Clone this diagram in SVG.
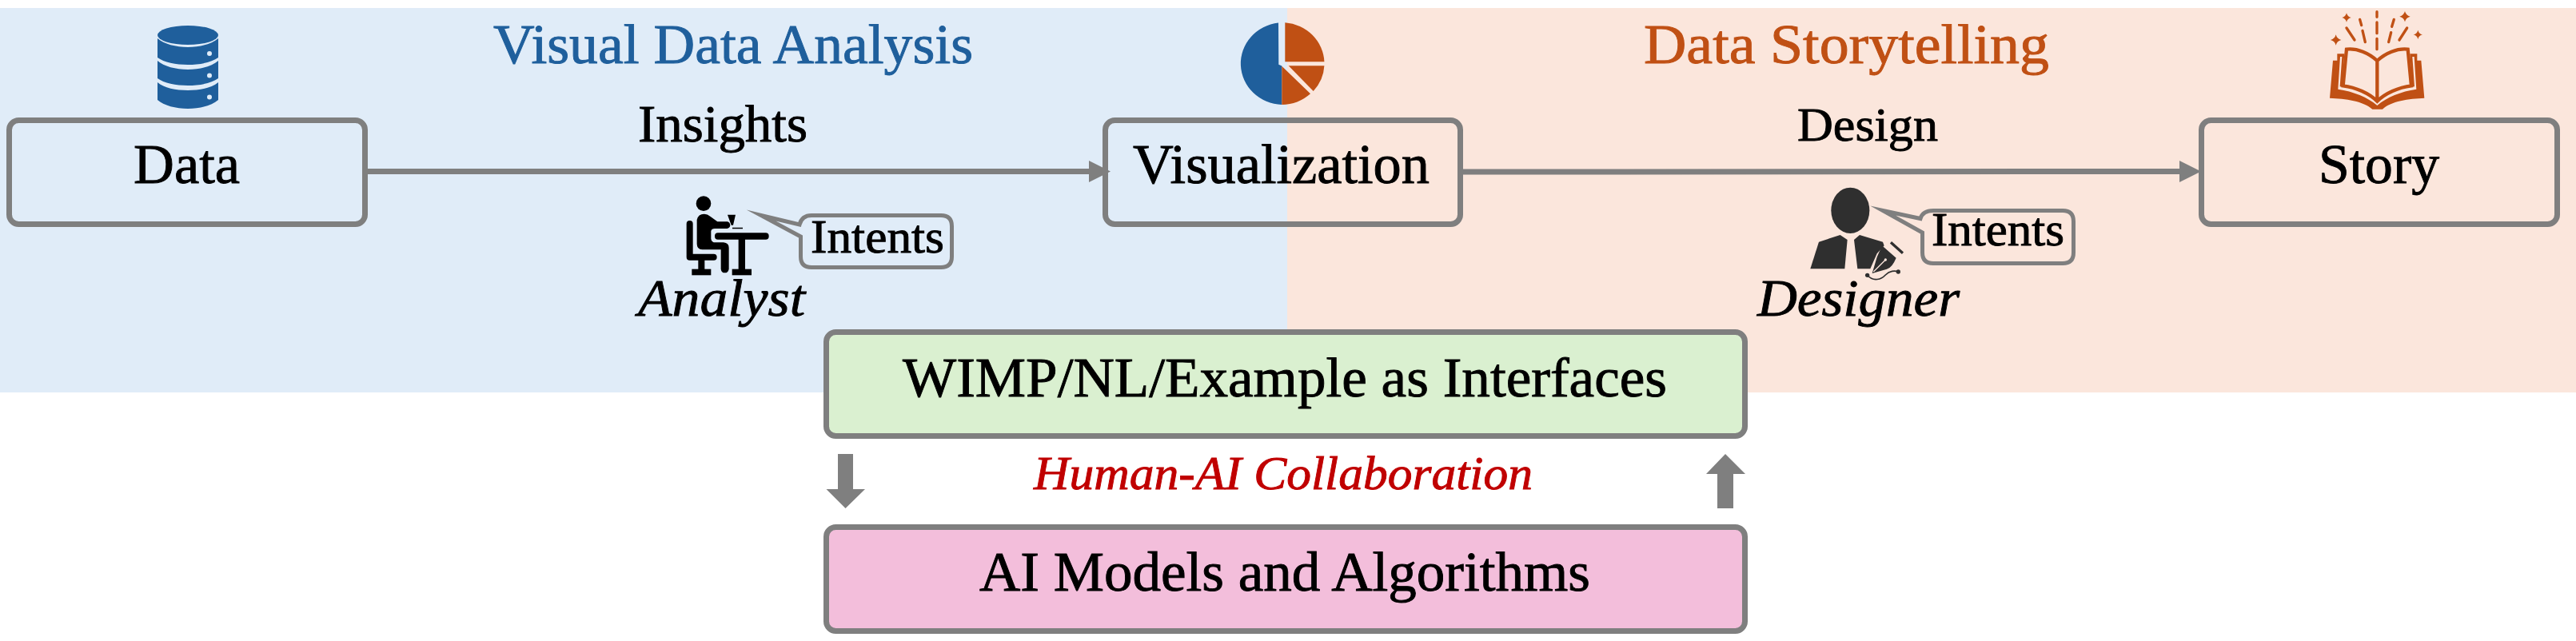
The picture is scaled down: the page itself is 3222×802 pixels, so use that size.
<svg xmlns="http://www.w3.org/2000/svg" width="3222" height="802" viewBox="0 0 3222 802">
<style>
text{font-family:"Liberation Serif","Times New Roman",serif;fill:#000;stroke:#000;stroke-width:.9}
.box{stroke:#7f7f7f;stroke-width:7;fill:none}
.bub{stroke:#7f7f7f;stroke-width:5;fill:none;stroke-miterlimit:12}
.conn{stroke:#7f7f7f;stroke-width:7;fill:none}
.blue{fill:#1f5f9c}
.org{fill:#c05014}
.dark{fill:#2f2f2f}
.ray{stroke:#c05014;stroke-width:10;stroke-linecap:round;fill:none}
.t70{font-size:69px}
.t66{font-size:66px}
.t60{font-size:60px}
.i{font-style:italic}
</style>
<defs>
<marker id="head" markerUnits="userSpaceOnUse" markerWidth="30" markerHeight="30" refX="3" refY="15" orient="auto"><polygon points="0,1.5 27,15 0,28.5" fill="#7f7f7f"/></marker>
<path id="sp" d="M0,-20 Q4,-4 20,0 Q4,4 0,20 Q-4,4 -20,0 Q-4,-4 0,-20Z" fill="#c05014"/>
</defs>
<rect x="0" y="10" width="1610" height="481" fill="#e0ecf8"/>
<rect x="1610" y="10" width="1612" height="481" fill="#fbe6dc"/>
<g id="connectors">
<line class="conn" x1="460" y1="214.5" x2="1365" y2="214.5" marker-end="url(#head)"/>
<line class="conn" x1="1830" y1="215" x2="2729" y2="214.5" marker-end="url(#head)"/>
<polygon id="arrow-down" points="1048,568 1067,568 1067,612 1082,612 1057.5,636 1033.5,612 1048,612" fill="#7f7f7f"/>
<polygon id="arrow-up" points="2148,636 2168,636 2168,593 2183,593 2158,568 2134,593 2148,593" fill="#7f7f7f"/>
</g>
<g id="title-analysis"><text class="t70" x="617" y="79" textLength="600" lengthAdjust="spacingAndGlyphs" style="fill:#1f5f9c;stroke:#1f5f9c">Visual Data Analysis</text></g>
<g id="title-storytelling"><text class="t70" x="2056" y="79" textLength="507" lengthAdjust="spacingAndGlyphs" style="fill:#c05014;stroke:#c05014">Data Storytelling</text></g>
<g id="label-insights"><text class="t66" x="798" y="177" textLength="212" lengthAdjust="spacingAndGlyphs">Insights</text></g>
<g id="label-design"><text class="t60" x="2248" y="176" textLength="176" lengthAdjust="spacingAndGlyphs">Design</text></g>
<g id="node-data">
<rect class="box" x="11.5" y="150.5" width="445" height="130" rx="12"/>
<text class="t70" x="167" y="229" textLength="133" lengthAdjust="spacingAndGlyphs">Data</text>
</g>
<g id="node-visualization">
<rect class="box" x="1382.5" y="150.5" width="444" height="130" rx="12"/>
<text class="t70" x="1417" y="229" textLength="371" lengthAdjust="spacingAndGlyphs">Visualization</text>
</g>
<g id="node-story">
<rect class="box" x="2753.5" y="150.5" width="445" height="130" rx="12"/>
<text class="t70" x="2900" y="229" textLength="151" lengthAdjust="spacingAndGlyphs">Story</text>
</g>
<g id="node-interfaces">
<rect class="box" x="1033.5" y="415.5" width="1149" height="130" rx="12" style="fill:#daf0d0"/>
<text class="t70" x="1129" y="496" textLength="956" lengthAdjust="spacingAndGlyphs">WIMP/NL/Example as Interfaces</text>
</g>
<g id="node-models">
<rect class="box" x="1033.5" y="659.5" width="1149" height="130" rx="12" style="fill:#f3bedb"/>
<text class="t70" x="1225" y="739" textLength="764" lengthAdjust="spacingAndGlyphs">AI Models and Algorithms</text>
</g>
<g id="label-collab"><text class="t60 i" x="1293" y="612" textLength="624" lengthAdjust="spacingAndGlyphs" style="fill:#c00000;stroke:#c00000">Human-AI Collaboration</text></g>
<g id="icon-database" class="blue">
<ellipse cx="235" cy="44" rx="38" ry="12"/>
<path d="M197,48 C205,55 220,59 235,59 C250,59 265,55 273,48 V72 C265,78 250,81 235,81 C220,81 205,78 197,72Z"/>
<path d="M197,76 C205,83 220,87 235,87 C250,87 265,83 273,76 V98 C265,104 250,107 235,107 C220,107 205,104 197,98Z"/>
<path d="M197,103 C205,110 220,113 235,113 C250,113 265,110 273,103 V125 C265,132 250,136 235,136 C220,136 205,132 197,125Z"/>
<circle cx="262" cy="67" r="3" fill="#e0ecf8"/><circle cx="262" cy="94.6" r="3" fill="#e0ecf8"/><circle cx="262" cy="121.5" r="3" fill="#e0ecf8"/>
</g>
<g id="icon-pie">
<path class="blue" d="M1599,28.4 A53.5,51.5 0 0 0 1603.3,131 V82.5 L1599.3,80.7Z"/>
<path class="org" d="M1607.3,28.2 A53.5,51.5 0 0 1 1656.4,77.3 H1607.3Z"/>
<path class="org" d="M1611.7,82.3 H1656.4 A53.5,51.5 0 0 1 1642.7,114Z"/>
<path class="org" d="M1603.3,82.7 L1639,117.3 A53.5,51.5 0 0 1 1603.3,131Z"/>
</g>
<g id="icon-book" transform="translate(2880,10) scale(.3333)">
<path class="org" d="M114,197 H130 V172 H157 L148,300 C190,305 250,330 280,358 C310,330 370,305 412,300 L403,172 H430 V197 H445 L457,338 C400,340 330,350 300,380 H262 C230,350 160,340 102,338Z"/>
<path d="M141,183 L133,305 C190,313 245,335 280,366 C315,335 370,313 427,305 L419,183 H412 L420,295 C365,300 310,322 280,350 C250,322 195,300 140,295 L148,183Z" fill="#fbe6dc"/>
<path d="M165,155 C205,150 250,170 280,198 C310,170 355,150 395,155 L408,292 C360,298 310,320 280,350 C250,320 200,298 152,292Z M280,198 V350" fill="none" stroke="#c05014" stroke-width="13"/>
<path class="ray" d="M279,14 V34 M279,54 V95 M279,115 V155 M165,75 L195,120 M225,85 L235,128 M215,43 L221,65 M392,75 L363,120 M332,92 L323,128 M343,43 L335,70"/>
<use href="#sp" x="125" y="120"/><use href="#sp" transform="translate(165,36) scale(.85)"/><use href="#sp" x="384" y="32"/><use href="#sp" transform="translate(433,100) scale(.85)"/>
</g>
<g id="analyst">
<g transform="translate(820,220) scale(.3333)">
<circle cx="180" cy="104" r="28"/>
<path d="M128,180 V305 H218" fill="none" stroke="#000" stroke-width="24" stroke-linecap="round" stroke-linejoin="round"/>
<rect x="160" y="310" width="24" height="45"/>
<rect x="136" y="350" width="72" height="23"/>
<path d="M155,165 Q160,143 182,143 Q195,143 205,152 L232,172 H270 Q280,175 280,187 Q278,197 268,198 H222 Q210,198 208,208 V236 Q210,250 225,250 H255 Q275,252 275,270 V350 Q272,364 260,364 Q247,364 245,350 V277 H175 Q155,277 155,255Z"/>
<rect x="222" y="214" width="203" height="25" rx="12"/>
<rect x="311" y="235" width="25" height="118"/>
<rect x="287" y="350" width="73" height="23"/>
<path d="M270,146 H300 L291,185 H284Z M288,194 H327 V199 H288Z"/>
</g>
<path class="bub" d="M1015,269.5 H1177 Q1190.5,269.5 1190.5,283 V321 Q1190.5,334.5 1177,334.5 H1015 Q1001.5,334.5 1001.5,321 V296 L952,269.5 L1000,281 Q1003,269.5 1015,269.5Z"/>
<text class="t60" x="1014" y="316" textLength="167" lengthAdjust="spacingAndGlyphs">Intents</text>
<text class="t66 i" x="798" y="395" textLength="209" lengthAdjust="spacingAndGlyphs">Analyst</text>
</g>
<g id="designer">
<g transform="translate(2180,220) scale(.3333)">
<ellipse class="dark" cx="403" cy="130" rx="72" ry="86"/>
<path class="dark" d="M253,349 L285,248 L365,222 L392,240 L382,349Z"/>
<path class="dark" d="M417,240 L438,222 L525,248 L530,262 L503,292 L478,349 H430Z"/>
<path class="dark" d="M522,262 L575,308 Q560,345 540,350 L485,366 L503,305Z"/>
<line x1="555" y1="250" x2="600" y2="290" stroke="#2f2f2f" stroke-width="10"/>
<line x1="490" y1="360" x2="535" y2="315" stroke="#fbe6dc" stroke-width="4"/>
<circle cx="535" cy="315" r="5" fill="#fbe6dc"/>
<path d="M467,373 C490,400 520,388 535,372 S570,355 583,360" fill="none" stroke="#2f2f2f" stroke-width="5"/>
<circle class="dark" cx="467" cy="373" r="8"/><circle class="dark" cx="583" cy="360" r="8"/>
</g>
<path class="bub" d="M2418,263.5 H2580 Q2593.5,263.5 2593.5,277 V316 Q2593.5,329.5 2580,329.5 H2418 Q2404.5,329.5 2404.5,316 V291 L2355,263.5 L2402,273.5 Q2405,263.5 2418,263.5Z"/>
<text class="t60" x="2416" y="307" textLength="166" lengthAdjust="spacingAndGlyphs">Intents</text>
<text class="t66 i" x="2198" y="395" textLength="253" lengthAdjust="spacingAndGlyphs">Designer</text>
</g>
</svg>
